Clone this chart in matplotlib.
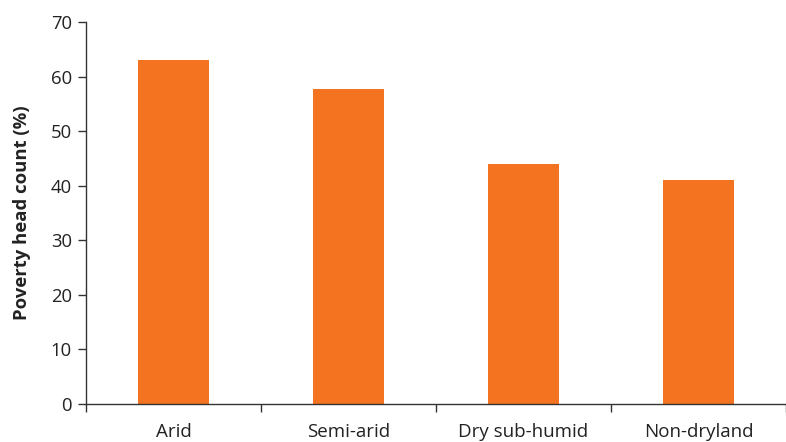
import matplotlib

matplotlib.use("Agg")
import matplotlib.pyplot as plt
import numpy as np

plt.rcParams.update({"font.family": ["Open Sans", "DejaVu Sans"]})

categories = ["Arid", "Semi-arid", "Dry sub-humid", "Non-dryland"]
poverty = [63, 57.8, 44, 41]

fig = plt.figure(figsize=(7.86, 4.42), dpi=100)
ax = fig.add_axes([0.1094, 0.086, 0.8906, 0.864])
x = np.arange(len(categories))
ax.bar(x, poverty, width=0.41, color="#F37321")

ax.set_xlim(-0.5, 3.45)
ax.set_ylim(0, 70)
ax.set_yticks(range(0, 71, 10))
ax.set_xticks(np.arange(-0.5, len(categories), 1.0))
ax.set_xticklabels([])
ax.set_xticks(x, minor=True)
ax.set_xticklabels(categories, minor=True, fontsize=13.5, color="#222")
ax.tick_params(axis="x", which="major", length=6, width=1, color="#333")
ax.tick_params(axis="x", which="minor", length=0, pad=14)
ax.tick_params(axis="y", length=6, width=1, color="#333", labelsize=13.3, labelcolor="#222", pad=4)
ax.set_ylabel("Poverty head count (%)", fontsize=13.3, fontweight="bold", color="#222", labelpad=14)

for s in ["top", "right"]:
    ax.spines[s].set_visible(False)
for s in ["left", "bottom"]:
    ax.spines[s].set_color("#333")
    ax.spines[s].set_linewidth(1)

fig.savefig("out.png", dpi=100)
